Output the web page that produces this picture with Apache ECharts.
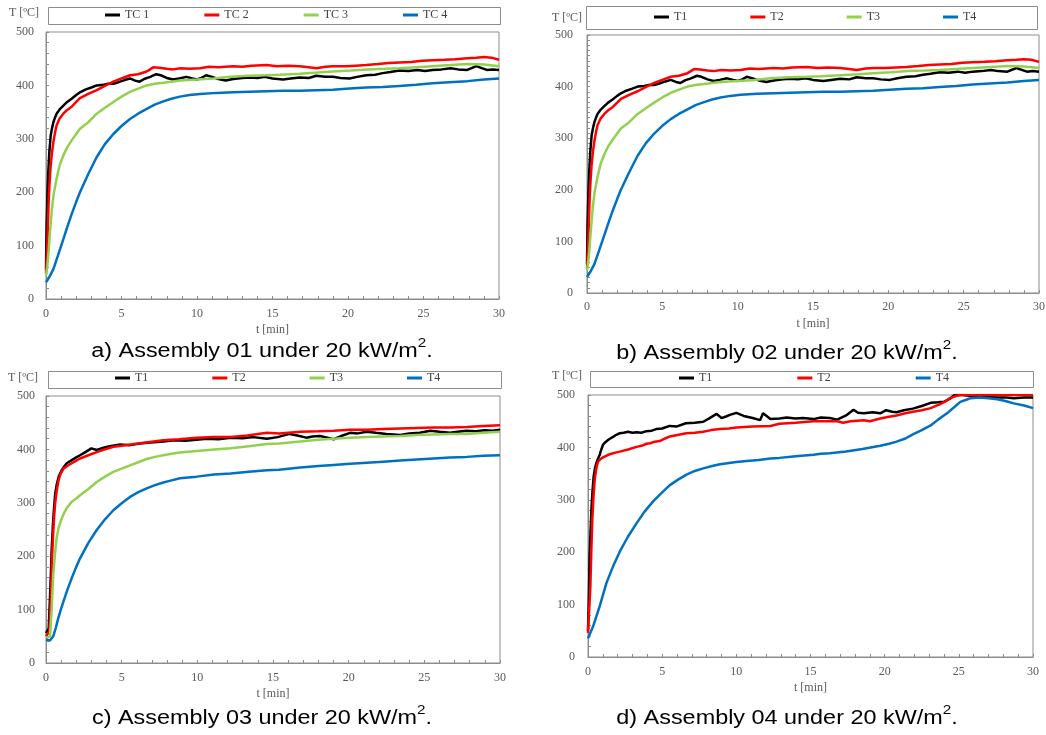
<!DOCTYPE html>
<html>
<head>
<meta charset="utf-8">
<script src="https://cdn.jsdelivr.net/npm/echarts@6.0.0/dist/echarts.min.js"></script>
<style>
  html, body { margin: 0; padding: 0; background: #ffffff; }
  #chart { width: 1046px; height: 735px; }
</style>
</head>
<body>
<div id="chart"></div>
<script>
// Temperature histories [t (min), T (ºC)] of the thermocouples in each assembly.

// Assembly 01
const asm01TC1 = [[0,55],[0.04,137],[0.1,200],[0.15,237],[0.22,275],[0.31,306],[0.4,320],[0.49,331],[0.6,340],[0.7,347],[0.9,355],[1.15,362],[1.4,369],[1.7,375],[2.0,382],[2.25,387],[2.6,392],[3.0,396],[3.36,400],[3.8,401],[4.1,403],[4.46,403],[4.8,406],[5.2,410],[5.56,413],[5.9,409],[6.2,407],[6.5,412],[6.9,416],[7.3,421],[7.6,419],[8.0,414],[8.4,411],[8.8,413],[9.3,416],[9.7,413],[10.0,411],[10.3,414],[10.6,419],[11.0,416],[11.4,412],[11.9,409],[12.4,412],[13.0,414],[13.5,415],[14.0,414],[14.5,416],[15.0,413],[15.7,411],[16.2,413],[16.8,415],[17.4,414],[17.9,418],[18.5,416],[19.0,416],[19.5,414],[20.1,413],[20.6,416],[21.2,419],[21.8,420],[22.3,423],[22.8,425],[23.4,428],[24.0,427],[24.6,429],[25.1,427],[25.6,429],[26.2,430],[26.8,432],[27.3,430],[27.9,429],[28.5,436],[28.9,432],[29.2,429],[29.6,430],[30,429]];
const asm01TC2 = [[0,47],[0.09,106],[0.18,187],[0.25,225],[0.31,250],[0.4,275],[0.49,294],[0.6,312],[0.7,325],[0.9,338],[1.15,347],[1.4,354],[1.7,360],[2.0,369],[2.25,376],[2.8,384],[3.36,391],[3.9,399],[4.46,407],[5.0,413],[5.56,419],[6.1,421],[6.67,426],[6.9,430],[7.1,434],[7.5,433],[8.0,431],[8.4,430],[8.9,432],[9.5,431],[10.2,432],[10.8,435],[11.4,434],[12.4,436],[13.0,435],[13.6,437],[14.6,438],[15.3,436],[16.0,437],[16.8,436],[17.4,434],[17.9,432],[18.5,435],[19.0,436],[19.8,436],[20.5,437],[21.2,438],[22.0,440],[22.7,442],[23.4,443],[24.2,444],[24.9,446],[25.6,447],[26.4,448],[27.1,449],[27.9,451],[28.5,452],[29.0,453],[29.5,452],[30,448]];
const asm01TC3 = [[0,44],[0.08,60],[0.15,81],[0.25,120],[0.37,162],[0.5,195],[0.7,225],[0.9,250],[1.15,269],[1.4,284],[1.7,297],[2.0,309],[2.25,319],[2.8,331],[3.36,347],[3.9,358],[4.46,369],[5.0,379],[5.56,388],[6.1,394],[6.67,400],[7.2,403],[7.77,405],[8.3,407],[8.87,409],[10.0,411],[11.1,413],[12.2,416],[13.4,418],[14.6,419],[15.5,420],[16.8,422],[18.0,424],[19.0,426],[20.2,428],[21.3,430],[22.4,431],[23.4,432],[24.5,434],[25.6,436],[26.8,438],[27.9,440],[29.0,439],[30,436]];
const asm01TC4 = [[0,31],[0.2,40],[0.49,56],[0.8,82],[1.15,112],[1.4,134],[1.7,159],[2.0,182],[2.25,200],[2.8,234],[3.36,266],[3.9,290],[4.46,309],[5.0,324],[5.56,337],[6.1,347],[6.67,356],[7.2,364],[7.77,370],[8.3,375],[8.87,379],[9.5,382],[10.2,384],[11.3,386],[12.4,387],[13.5,388],[14.6,389],[15.7,390],[16.8,390],[17.9,391],[19.0,392],[20.1,394],[21.2,396],[22.3,397],[23.4,399],[24.5,401],[25.6,404],[26.7,406],[27.9,408],[29.0,411],[30,413]];

// Assembly 02 (same recorded curves as Assembly 01)
const asm02T1 = asm01TC1;
const asm02T2 = asm01TC2;
const asm02T3 = asm01TC3;
const asm02T4 = asm01TC4;

// Assembly 03
const asm03T1 = [[0,56],[0.18,65],[0.26,121],[0.32,165],[0.37,209],[0.45,255],[0.53,290],[0.6,315],[0.7,333],[0.85,350],[1.04,361],[1.2,368],[1.37,374],[1.7,380],[2.0,385],[2.25,389],[2.6,395],[3.0,402],[3.35,399],[3.8,403],[4.2,406],[4.9,409],[5.55,408],[6.2,411],[6.9,413],[7.75,415],[8.5,417],[9.2,416],[9.96,418],[10.6,420],[11.4,419],[12.2,422],[13.0,421],[13.7,423],[14.6,420],[15.3,423],[16.1,429],[16.6,426],[17.2,422],[17.6,424],[18.1,425],[18.6,422],[19.0,419],[19.5,425],[20.1,431],[20.6,430],[21.2,433],[21.8,431],[22.5,429],[23.4,427],[24.0,430],[24.7,431],[25.4,435],[26.0,433],[26.7,431],[27.2,433],[27.8,435],[28.4,434],[29.0,436],[29.5,435],[30,437]];
const asm03T2 = [[0,50],[0.22,59],[0.27,85],[0.31,115],[0.36,155],[0.4,196],[0.46,235],[0.53,271],[0.6,298],[0.7,321],[0.8,338],[0.93,352],[1.15,364],[1.4,369],[1.7,374],[2.0,379],[2.25,383],[2.8,389],[3.35,395],[3.9,400],[4.45,405],[5.0,407],[5.55,409],[6.6,413],[7.75,417],[8.8,419],[9.96,422],[11.1,423],[12.2,423],[13.3,426],[14.6,431],[15.4,430],[16.8,433],[18.0,434],[19.0,435],[20.1,437],[21.2,437],[22.3,438],[23.4,439],[24.5,440],[25.6,441],[26.7,441],[27.8,442],[28.9,444],[30,445]];
const asm03T3 = [[0,47],[0.26,50],[0.31,70],[0.37,97],[0.42,130],[0.48,165],[0.58,200],[0.7,234],[0.85,255],[1.04,271],[1.2,281],[1.37,290],[1.7,302],[2.0,308],[2.25,314],[2.8,326],[3.35,339],[3.9,349],[4.45,358],[5.0,364],[5.55,370],[6.1,376],[6.65,382],[7.2,386],[7.75,389],[8.3,392],[8.85,394],[9.96,397],[11.1,400],[12.2,402],[13.4,406],[14.6,410],[15.4,411],[16.8,415],[18.0,418],[19.0,420],[20.1,422],[21.2,423],[22.3,424],[23.4,425],[24.5,427],[25.6,428],[26.7,429],[27.8,429],[28.9,431],[30,433]];
const asm03T4 = [[0,44],[0.26,42],[0.48,50],[0.65,66],[0.81,84],[1.0,102],[1.15,115],[1.4,136],[1.7,159],[2.0,180],[2.25,196],[2.8,225],[3.35,249],[3.9,269],[4.45,286],[5.0,299],[5.55,311],[6.1,320],[6.65,327],[7.2,333],[7.75,338],[8.3,342],[8.85,346],[9.96,349],[11.1,353],[12.2,355],[13.4,358],[14.6,361],[15.4,362],[16.8,366],[18.0,369],[19.0,371],[20.1,373],[21.2,375],[22.3,377],[23.4,379],[24.5,381],[25.6,383],[26.7,385],[27.8,386],[28.9,388],[30,389]];

// Assembly 04
const asm04T1 = [[0,50],[0.05,103],[0.11,192],[0.17,240],[0.23,281],[0.3,315],[0.38,344],[0.47,360],[0.56,370],[0.68,379],[0.79,386],[0.9,396],[1.01,405],[1.17,410],[1.35,414],[1.5,417],[1.69,420],[1.9,424],[2.14,427],[2.4,428],[2.7,430],[3.0,428],[3.27,429],[3.6,428],[3.94,431],[4.3,432],[4.6,435],[5.0,436],[5.5,441],[6.0,440],[6.6,446],[7.2,447],[7.77,449],[8.2,456],[8.67,464],[9.0,456],[9.3,459],[9.57,462],[10.0,466],[10.5,460],[11.1,456],[11.6,452],[11.8,465],[12.3,454],[12.9,455],[13.4,457],[14.0,455],[14.5,456],[15.2,454],[15.7,457],[16.3,456],[16.8,453],[17.4,461],[17.9,472],[18.2,466],[18.6,465],[19.2,467],[19.7,465],[20.1,471],[20.5,468],[20.8,467],[21.3,471],[21.9,474],[22.5,479],[23.1,485],[23.6,486],[24.0,487],[24.4,493],[24.7,500],[25.3,500],[26.0,497],[26.8,496],[27.6,495],[28.2,495],[28.7,494],[29.4,495],[30,495]];
const asm04T2 = [[0,46],[0.16,135],[0.22,200],[0.29,262],[0.37,305],[0.45,338],[0.56,360],[0.68,373],[0.85,378],[1.01,381],[1.3,385],[1.58,388],[1.85,390],[2.14,392],[2.7,396],[3.27,401],[3.6,403],[3.94,407],[4.2,408],[4.5,411],[4.84,412],[5.2,417],[5.52,421],[6.1,424],[6.64,427],[7.2,428],[7.77,430],[8.3,433],[8.9,435],[9.5,436],[10.0,438],[11.1,440],[12.3,441],[12.9,445],[14.0,447],[15.2,450],[16.0,450],[16.8,450],[17.2,447],[17.7,450],[18.6,452],[19.0,450],[19.7,455],[20.2,458],[20.8,461],[21.4,465],[21.9,468],[22.5,471],[23.1,475],[23.7,482],[24.1,488],[24.4,494],[24.8,498],[25.1,500],[30,500]];
const asm04T4 = [[0,36],[0.34,58],[0.79,97],[1.24,141],[1.69,173],[2.14,201],[2.7,230],[3.27,255],[3.8,277],[4.39,297],[5.0,314],[5.52,328],[6.1,339],[6.64,348],[7.2,355],[7.77,360],[8.44,365],[8.9,368],[10.0,372],[10.7,374],[11.5,376],[12.3,379],[12.9,380],[14.0,383],[15.2,386],[15.7,388],[16.3,389],[17.4,392],[18.5,397],[19.7,403],[20.3,407],[20.8,411],[21.4,417],[21.9,425],[22.5,433],[23.1,442],[23.6,453],[24.2,465],[24.7,477],[25.1,487],[25.5,491],[25.8,494],[26.4,495],[27.0,494],[27.6,492],[28.2,488],[28.7,484],[29.4,480],[30,475]];

// Axis ranges and labels
const timeRange = [0, 30];
const tempRange = [0, 500];
const xAxisTitle = 't [min]';
const yAxisTitle = 'T [ºC]';
const captions = [
  ['a) Assembly 01 under 20 kW/m', '2', '.'],
  ['b) Assembly 02 under 20 kW/m', '2', '.'],
  ['c) Assembly 03 under 20 kW/m', '2', '.'],
  ['d) Assembly 04 under 20 kW/m', '2', '.']
];
const seriesNames = [
  ['TC 1', 'TC 2', 'TC 3', 'TC 4'],
  ['T1', 'T2', 'T3', 'T4'],
  ['T1', 'T2', 'T3', 'T4'],
  ['T1', 'T2', 'T4']
];
const seriesData = [
  [asm01TC1, asm01TC2, asm01TC3, asm01TC4],
  [asm02T1, asm02T2, asm02T3, asm02T4],
  [asm03T1, asm03T2, asm03T3, asm03T4],
  [asm04T1, asm04T2, asm04T4]
];

// Colour per thermocouple position
const palette = { 1: '#000000', 2: '#ff0000', 3: '#92d050', 4: '#0070c0' };

// Panel layout (pixels)
const panels = [
  { grid: { left: 46, top: 32, width: 453, height: 267 }, box: [48, 7, 452, 17], legend: { left: 105, top: 9, gap: 55 }, unit: [39, 13], cap: [262, 349], yMinor: 5, yMargin: 12, xMargin: 9 },
  { grid: { left: 587, top: 35, width: 452, height: 258 }, box: [586, 6, 451, 23], legend: { left: 654, top: 11, gap: 63 }, unit: [582, 18], cap: [787, 351], yMinor: 10, yMargin: 14, xMargin: 8 },
  { grid: { left: 46, top: 396, width: 454, height: 267 }, box: [48, 371, 453, 17], legend: { left: 115, top: 372, gap: 64 }, unit: [38, 378], cap: [262, 716], yMinor: 5, yMargin: 11, xMargin: 9 },
  { grid: { left: 588, top: 395, width: 445, height: 262 }, box: [590, 371, 443, 16], legend: { left: 679, top: 372, gap: 85 }, unit: [582, 376], cap: [787, 716], yMinor: 5, yMargin: 13, xMargin: 9 }
];

const serif = "'Liberation Serif', 'Times New Roman', serif";
const sans = "'Liberation Sans', Arial, sans-serif";
const axisGrey = '#8c8c8c';
const labelGrey = '#595959';

const option = {
  animation: false,
  backgroundColor: '#ffffff',
  grid: [], xAxis: [], yAxis: [], legend: [], series: [], graphic: []
};

panels.forEach(function (p, i) {
  option.grid.push(Object.assign({
    show: true, borderColor: axisGrey, borderWidth: 1, backgroundColor: 'transparent',
    containLabel: false, outerBoundsMode: 'none'
  }, p.grid));

  option.xAxis.push({
    type: 'value', gridIndex: i, min: timeRange[0], max: timeRange[1], interval: 5,
    name: xAxisTitle, nameLocation: 'middle', nameGap: 25,
    nameTextStyle: { fontFamily: serif, fontSize: 12, color: labelGrey },
    axisLine: { show: true, onZero: false, lineStyle: { color: axisGrey, width: 1 } },
    axisTick: { show: true, inside: true, length: 3, lineStyle: { color: axisGrey } },
    minorTick: { show: true, splitNumber: 5, length: 3, lineStyle: { color: axisGrey } },
    axisLabel: { fontFamily: serif, fontSize: 12, color: labelGrey, margin: p.xMargin },
    splitLine: { show: false }
  });

  option.yAxis.push({
    type: 'value', gridIndex: i, min: tempRange[0], max: tempRange[1], interval: 100,
    axisLine: { show: true, onZero: false, lineStyle: { color: axisGrey, width: 1 } },
    axisTick: { show: true, inside: true, length: 3, lineStyle: { color: axisGrey } },
    minorTick: { show: true, splitNumber: p.yMinor, length: 3, lineStyle: { color: axisGrey } },
    axisLabel: { fontFamily: serif, fontSize: 12, color: labelGrey, margin: p.yMargin },
    splitLine: { show: false }
  });

  option.legend.push({
    left: p.legend.left, top: p.legend.top, padding: 0, orient: 'horizontal',
    itemGap: p.legend.gap, itemWidth: 15, itemHeight: 3, icon: 'rect',
    selectedMode: false,
    textStyle: { fontFamily: serif, fontSize: 12, color: '#404040' },
    data: seriesNames[i]
  });

  seriesNames[i].forEach(function (name, k) {
    const idx = parseInt(name.replace(/\D/g, ''), 10);
    option.series.push({
      type: 'line', name: name, xAxisIndex: i, yAxisIndex: i,
      data: seriesData[i][k], showSymbol: false, symbol: 'none', clip: true,
      color: palette[idx],
      lineStyle: { color: palette[idx], width: 2.5 }
    });
  });

  // legend frame
  option.graphic.push({
    type: 'rect', z: 1, silent: true,
    shape: { x: p.box[0] + 0.5, y: p.box[1] + 0.5, width: p.box[2], height: p.box[3] },
    style: { fill: 'none', stroke: axisGrey, lineWidth: 1 }
  });
  // y-axis quantity label
  option.graphic.push({
    type: 'text', z: 5, silent: true, x: p.unit[0], y: p.unit[1],
    style: { text: yAxisTitle, fill: labelGrey, font: '12px ' + serif, align: 'right', verticalAlign: 'middle' }
  });
  // panel caption
  option.graphic.push({
    type: 'text', z: 5, silent: true, x: p.cap[0], y: p.cap[1], scaleX: 1.17,
    style: {
      text: '{m|' + captions[i][0] + '}{s|' + captions[i][1] + '}{m|' + captions[i][2] + '}',
      align: 'center', verticalAlign: 'middle',
      rich: {
        m: { fontFamily: sans, fontSize: 20, lineHeight: 24, fill: '#000000', verticalAlign: 'bottom' },
        s: { fontFamily: sans, fontSize: 13, lineHeight: 13, fill: '#000000', verticalAlign: 'top' }
      }
    }
  });
});

const chart = echarts.init(document.getElementById('chart'), null, { renderer: 'canvas' });
chart.setOption(option);
</script>
</body>
</html>
